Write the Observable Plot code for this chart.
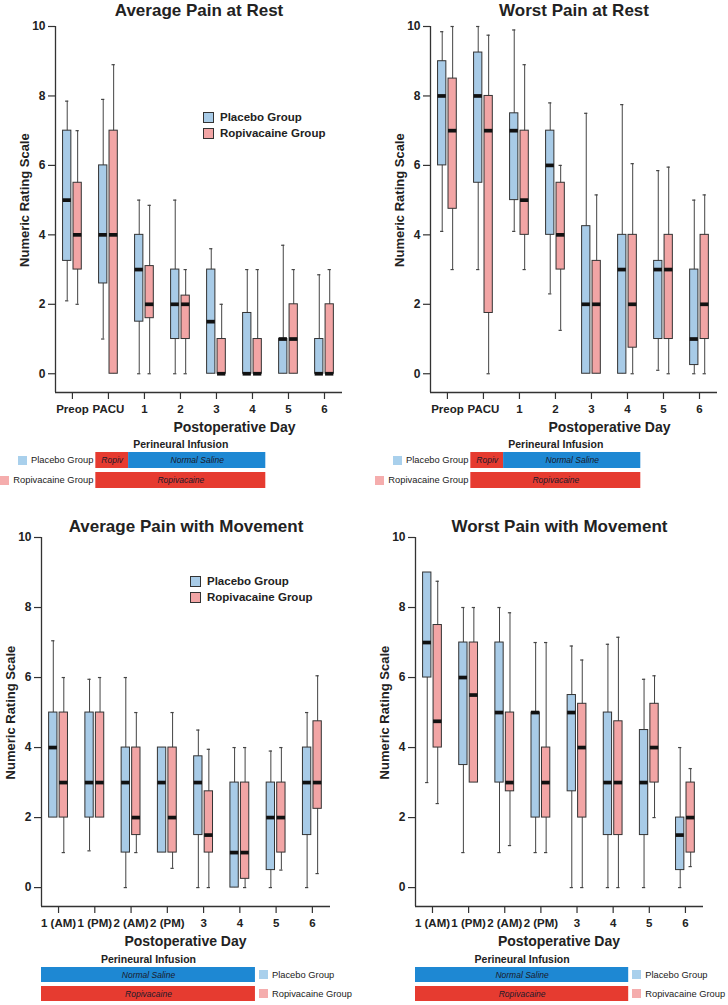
<!DOCTYPE html>
<html><head><meta charset="utf-8">
<script src="https://cdn.jsdelivr.net/npm/d3@7"></script>
<script src="https://cdn.jsdelivr.net/npm/@observablehq/plot@0.6"></script>
<style>
body{margin:0;background:#fff;font-family:"Liberation Sans",Arial,sans-serif;}
#fig{position:relative;width:728px;height:1005px;overflow:hidden;background:#fff;}
.glab{position:absolute;display:flex;align-items:center;height:14px;font-size:9.35px;color:#222;white-space:nowrap;}
.glab .sq{width:9px;height:9px;display:inline-block;}
.leg{position:absolute;display:flex;align-items:center;height:12px;font-size:11.5px;font-weight:bold;color:#222;white-space:nowrap;}
.leg .sq{width:9px;height:9px;border:1px solid #333;display:inline-block;margin-right:6px;}
</style></head><body><div id="fig"></div>
<script>
// ---------- data ----------
const restLabels = ["Preop", "PACU", "1", "2", "3", "4", "5", "6"];
const moveLabels = ["1 (AM)", "1 (PM)", "2 (AM)", "2 (PM)", "3", "4", "5", "6"];
const groups = ["Placebo Group", "Ropivacaine Group"];

// each entry: [min, q1, median, q3, max]
const avgRestPlacebo = [[2.1,3.25,5,7,7.85],[1,2.6,4,6,7.9],[0,1.5,3,4,5],[0,1,2,3,5],[0,0,1.5,3,3.6],[0,0,0,1.75,3],[0,0,1,1,3.7],[0,0,0,1,2.85]];
const avgRestRopiv   = [[2,3,4,5.5,7],[0,0,4,7,8.9],[0,1.6,2,3.1,4.85],[0,1,2,2.25,3],[0,0,0,1,2],[0,0,0,1,3],[0,0,1,2,3],[0,0,0,2,3]];
const worstRestPlacebo = [[4.1,6,8,9,9.85],[3,5.5,8,9.25,10],[4.1,5,7,7.5,9.9],[2.3,4,6,7,7.8],[0,0,2,4.25,7.5],[0,0,3,4,7.75],[0.1,1,3,3.25,5.85],[0,0.25,1,3,5]];
const worstRestRopiv   = [[3,4.75,7,8.5,10],[0,1.75,7,8,9.75],[3,4,5,7,8.9],[1.25,3,4,5.5,6],[0,0,2,3.25,5.15],[0,0.75,2,4,6.05],[0,1,3,4,5.95],[0,1,2,4,5.15]];
const avgMovePlacebo = [[2,2,4,5,7.05],[1.05,2,3,5,5.95],[0,1,3,4,6],[1,1,3,4,4],[0,1.5,3,3.75,4.5],[0,0,1,3,4],[0,0.5,2,3,3.9],[0,1.5,3,4,5]];
const avgMoveRopiv   = [[1,2,3,5,6],[2,2,3,5,6],[1,1.5,2,4,5],[0.55,1,2,4,5],[0,1,1.5,2.75,3.95],[0,0.25,1,3,4],[0.5,1,2,3,4],[0.4,2.25,3,4.75,6.05]];
const worstMovePlacebo = [[3,6,7,9,9],[1,3.5,6,7,8],[1,3,5,7,8],[1,2,5,5,7],[0,2.75,5,5.5,6.9],[0,1.5,3,5,6.95],[0,1.5,3,4.5,5.95],[0,0.5,1.5,2,4]];
const worstMoveRopiv   = [[2.4,4,4.75,7.5,8.75],[3,3,5.5,7,8],[1.2,2.75,3,5,7.85],[1,2,3,4,7],[0,2,4,5.25,6.5],[0,1.5,3,4.75,7.15],[2,3,4,5.25,6.05],[0.6,1,2,3,3.4]];

// perineural infusion schematic (in x-category units)
const infusionRest = [
  {group: "Placebo Group", drug: "Ropivacaine", label: "Ropiv", start: 0.65, end: 1.56},
  {group: "Placebo Group", drug: "Normal Saline", label: "Normal Saline", start: 1.56, end: 5.37},
  {group: "Ropivacaine Group", drug: "Ropivacaine", label: "Ropivacaine", start: 0.65, end: 5.37}
];
const infusionMove = [
  {group: "Placebo Group", drug: "Normal Saline", label: "Normal Saline", start: -0.47, end: 5.43},
  {group: "Ropivacaine Group", drug: "Ropivacaine", label: "Ropivacaine", start: -0.47, end: 5.43}
];

// ---------- styling ----------
const boxFill = {"Placebo Group": "#a8cbe7", "Ropivacaine Group": "#f2a5a5"};
const legFill = {"Placebo Group": "#a9d0ec", "Ropivacaine Group": "#f5adad"};
const drugFill = {"Ropivacaine": "#e63b30", "Normal Saline": "#1e88d3"};
const XDOM = [-0.47, 7.5], YDOM = [-0.54, 10];
const OFF = 0.145, HW = 0.115, CAP = 0.045;
const FONT = "'Liberation Sans', Arial, Helvetica, sans-serif";
const fig = document.getElementById("fig");

function boxRows(labels, placebo, ropiv) {
  const rows = [];
  labels.forEach((lab, i) => {
    [[placebo, groups[0], -OFF], [ropiv, groups[1], OFF]].forEach(([arr, g, off]) => {
      const [min, q1, med, q3, max] = arr[i];
      rows.push({i, pos: i + off, group: g, min, q1, med, q3, max});
    });
  });
  return rows;
}

function panel(o) {
  const rows = boxRows(o.labels, o.placebo, o.ropiv);
  const dayIdx = o.labels.map((l, i) => /^\d/.test(l) ? i : null).filter(v => v !== null);
  const xLabelAt = d3.mean(dayIdx);
  const plot = Plot.plot({
    width: 364, height: o.height,
    marginLeft: o.ml, marginRight: o.mr, marginTop: o.mt, marginBottom: o.mb,
    style: {background: "transparent", fontFamily: FONT, color: "#222", overflow: "visible"},
    x: {domain: XDOM},
    y: {domain: YDOM},
    marks: [
      Plot.ruleX(rows, {x: "pos", y1: "min", y2: "max", stroke: "#444", strokeWidth: 1}),
      Plot.ruleY(rows.filter(d => d.min < d.q1), {y: "min", x1: d => d.pos - CAP, x2: d => d.pos + CAP, stroke: "#444", strokeWidth: 1.2}),
      Plot.ruleY(rows.filter(d => d.max > d.q3), {y: "max", x1: d => d.pos - CAP, x2: d => d.pos + CAP, stroke: "#444", strokeWidth: 1.2}),
      ...groups.map(g => Plot.rect(rows.filter(d => d.group === g), {
        x1: d => d.pos - HW, x2: d => d.pos + HW, y1: "q1", y2: "q3",
        fill: boxFill[g], stroke: "#333", strokeWidth: 1
      })),
      Plot.ruleY(rows, {y: "med", x1: d => d.pos - HW, x2: d => d.pos + HW, stroke: "#111", strokeWidth: 3.7}),
      Plot.ruleX([XDOM[0]], {y1: YDOM[0], y2: YDOM[1], stroke: "#333", strokeWidth: 1.3}),
      Plot.ruleY([YDOM[0]], {x1: XDOM[0], x2: XDOM[1], stroke: "#333", strokeWidth: 1.3}),
      Plot.axisX({ticks: d3.range(o.labels.length), tickFormat: i => o.labels[i], tickSize: 7, tickPadding: 5,
        fontSize: 11.5, fontWeight: "bold", label: null, stroke: "#333", strokeWidth: 1.2}),
      Plot.axisY({ticks: [0, 2, 4, 6, 8, 10], tickSize: 7, tickPadding: 3,
        fontSize: 12, fontWeight: "bold", label: null, stroke: "#333", strokeWidth: 1.2}),
      Plot.text([o.title], {frameAnchor: "top", dy: o.titleDy, fontSize: 17, fontWeight: "bold", fill: "#222"}),
      Plot.text(["Numeric Rating Scale"], {frameAnchor: "left", y: [5], dx: -31, rotate: -90, textAnchor: "middle",
        fontSize: 13, fontWeight: "bold", fill: "#222"}),
      Plot.text(["Postoperative Day"], {frameAnchor: "bottom", x: [xLabelAt], dy: o.xLabelDy, fontSize: 14, fontWeight: "bold", fill: "#222"})
    ]
  });
  plot.style.position = "absolute";
  plot.style.left = o.left + "px";
  plot.style.top = o.top + "px";
  fig.appendChild(plot);
  return plot;
}

function strip(o) {
  const segs = o.segments;
  const x0 = d3.min(segs, d => d.start), x1 = d3.max(segs, d => d.end);
  const plot = Plot.plot({
    width: 364, height: o.height,
    marginLeft: o.ml, marginRight: o.mr, marginTop: o.mt, marginBottom: o.mb,
    style: {background: "transparent", fontFamily: FONT, color: "#222", overflow: "visible"},
    x: {domain: XDOM, axis: null},
    y: {domain: groups, axis: null, paddingInner: o.pad, paddingOuter: 0},
    marks: [
      ...Object.keys(drugFill).map(dr => Plot.barX(segs.filter(d => d.drug === dr),
        {x1: "start", x2: "end", y: "group", fill: drugFill[dr]})),
      Plot.text(segs, {x: d => (d.start + d.end) / 2, y: "group", text: "label", fontStyle: "italic", fontSize: 8.5, fill: "#1a1a2a"}),
      Plot.text(["Perineural Infusion"], {x: [(x0 + x1) / 2], frameAnchor: "top", dy: o.titleDy, fontSize: 10.5, fontWeight: "bold", fill: "#222"})
    ]
  });
  plot.style.position = "absolute";
  plot.style.left = o.left + "px";
  plot.style.top = o.top + "px";
  fig.appendChild(plot);

  const xs = plot.scale("x"), ys = plot.scale("y");
  const bw = ys.bandwidth;
  groups.forEach(g => {
    const gs = segs.filter(d => d.group === g);
    const cy = o.top + ys.apply(g) + bw / 2;
    const div = document.createElement("div");
    div.className = "glab";
    div.style.top = (cy - 7) + "px";
    const sq = document.createElement("span");
    sq.className = "sq";
    sq.style.background = legFill[g];
    sq.style.marginRight = "4px";
    const lab = document.createElement("span");
    lab.textContent = g;
    if (o.side === "left") {
      const xr = o.left + xs.apply(d3.min(gs, d => d.start)) - 2;
      div.style.right = (728 - xr) + "px";
    } else {
      const xl = o.left + xs.apply(d3.max(gs, d => d.end)) + 4;
      div.style.left = xl + "px";
    }
    div.append(sq, lab);
    fig.appendChild(div);
  });
}

function insideLegend(left, top) {
  groups.forEach((g, k) => {
    const div = document.createElement("div");
    div.className = "leg";
    div.style.left = left + "px";
    div.style.top = (top + k * 16) + "px";
    const sq = document.createElement("span");
    sq.className = "sq";
    sq.style.background = boxFill[g];
    const lab = document.createElement("span");
    lab.textContent = g;
    div.append(sq, lab);
    fig.appendChild(div);
  });
}

// ---------- panels ----------
panel({title: "Average Pain at Rest", labels: restLabels, placebo: avgRestPlacebo, ropiv: avgRestRopiv,
  left: 0, top: 0, height: 440, ml: 55, mr: 22, mt: 26, mb: 48, titleDy: -23, xLabelDy: 39});
panel({title: "Worst Pain at Rest", labels: restLabels, placebo: worstRestPlacebo, ropiv: worstRestRopiv,
  left: 364, top: 0, height: 440, ml: 66, mr: 11, mt: 26, mb: 48, titleDy: -23, xLabelDy: 39});
panel({title: "Average Pain with Movement", labels: moveLabels, placebo: avgMovePlacebo, ropiv: avgMoveRopiv,
  left: 0, top: 500, height: 450, ml: 41, mr: 34, mt: 37, mb: 44, titleDy: -18, xLabelDy: 39});
panel({title: "Worst Pain with Movement", labels: moveLabels, placebo: worstMovePlacebo, ropiv: worstMoveRopiv,
  left: 364, top: 500, height: 450, ml: 51, mr: 25, mt: 37, mb: 44, titleDy: -18, xLabelDy: 39});

strip({segments: infusionRest, left: 0, top: 436, height: 56, ml: 55, mr: 22, mt: 15, mb: 3, pad: 0.19, titleDy: -11, side: "left"});
strip({segments: infusionRest, left: 364, top: 436, height: 56, ml: 66, mr: 11, mt: 15, mb: 3, pad: 0.19, titleDy: -11, side: "left"});
strip({segments: infusionMove, left: 0, top: 950, height: 55, ml: 41, mr: 34, mt: 17, mb: 3, pad: 0.2, titleDy: -12, side: "right"});
strip({segments: infusionMove, left: 364, top: 950, height: 55, ml: 51, mr: 25, mt: 17, mb: 3, pad: 0.2, titleDy: -12, side: "right"});

insideLegend(203, 111);
insideLegend(190, 575);
</script></body></html>
